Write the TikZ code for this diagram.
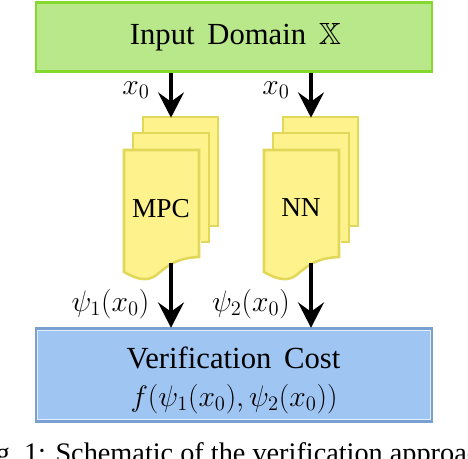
\documentclass[tikz,border=0pt]{standalone}
\usepackage{amsmath,amssymb}
\usepackage{fontspec}
\setmainfont{Liberation Serif}
\usetikzlibrary{arrows.meta}
\definecolor{gfill}{HTML}{B9E88A}
\definecolor{gline}{HTML}{84D82E}
\definecolor{bfill}{HTML}{9FC5F3}
\definecolor{bline}{HTML}{7AA0D2}
\definecolor{yfill}{HTML}{FDF28C}
\definecolor{yline}{HTML}{E3D75A}
\tikzset{
  flowarrow/.style={line width=2.4pt,-{Stealth[length=19pt,width=19.5pt,inset=7pt]},shorten >=-0.5pt},
  sheet/.style={fill=yfill,draw=yline,line width=1.9pt,line join=miter},
  bigbox/.style={rectangle,minimum width=297pt,inner sep=0pt,anchor=center},
  biglabel/.style={font=\fontsize{23}{27}\selectfont},
  mathlabel/.style={font=\fontsize{20.74}{25}\selectfont,inner sep=0pt,scale=1.07}
}
\newcommand{\docstack}[1]{%
  \begin{scope}[xshift=#1*0.75pt]
    \draw[sheet] (143,117) -- (218,117) -- (218,226) -- (143,226) -- cycle;
    \draw[sheet] (133,133) -- (209,133) -- (209,242) -- (133,242) -- cycle;
    \draw[white,line width=1pt] (200,258) -- (200,240);
    \draw[sheet] (124,150) -- (199,150) -- (199,257)
      .. controls (176,258) and (168,266) .. (160,272)
      .. controls (150,282) and (140,281) .. (124,272) -- cycle;
  \end{scope}%
}
\begin{document}
\begin{tikzpicture}[x=0.75pt,y=-0.75pt]
\useasboundingbox (0,0) rectangle (468,458);
\clip (0,0) rectangle (468,458);
% boxes
\node[bigbox,minimum height=52pt,fill=gfill,draw=gline,line width=1.9pt] (input) at (234,37) {};
\node[biglabel,inner sep=0pt] (inputlabel) at (235.5,37) {Input\, Domain\, $\mathbb{X}$};
\node[bigbox,minimum height=70pt,fill=bfill,draw=bline,line width=1.9pt] (cost) at (234,375) {};
\draw[white!70!bfill,line width=0.5pt] (37.5,330.5) rectangle (430.5,419.5);
\node[biglabel,inner sep=0pt] (costlabel) at (233.5,358) {Verification\, Cost};
\node[mathlabel] (costmath) at (234,399) {$f(\psi_1(x_0),\psi_2(x_0))$};
% documents
\docstack{0}
\docstack{140}
\node[font=\fontsize{20.5}{24}\selectfont,inner sep=0pt] (mpc) at (161,209) {MPC};
\node[font=\fontsize{20.5}{24}\selectfont,inner sep=0pt] (nn) at (301,208) {NN};
% connector ends
\coordinate (mpctop) at (171,117);
\coordinate (nntop) at (311,117);
\coordinate (mpcbot) at (171,263);
\coordinate (nnbot) at (311,263);
\draw[flowarrow] (input.south -| mpctop) -- (mpctop);
\draw[flowarrow] (input.south -| nntop) -- (nntop);
\draw[flowarrow] (mpcbot) -- (cost.north -| mpcbot);
\draw[flowarrow] (nnbot) -- (cost.north -| nnbot);
% labels
\node[mathlabel] (xa) at (136,90) {$x_0$};
\node[mathlabel] (xb) at (276,90) {$x_0$};
\node[mathlabel] (psia) at (110.5,304) {$\psi_1(x_0)$};
\node[mathlabel] (psib) at (251,304) {$\psi_2(x_0)$};
% caption, cut by the picture's edges as in the reference
\node[font=\fontsize{21.2}{25}\selectfont,inner sep=0pt,anchor=base west] (caption) at (-28,462) {Fig.\ 1: Schematic of the verification approach};
\end{tikzpicture}
\end{document}
